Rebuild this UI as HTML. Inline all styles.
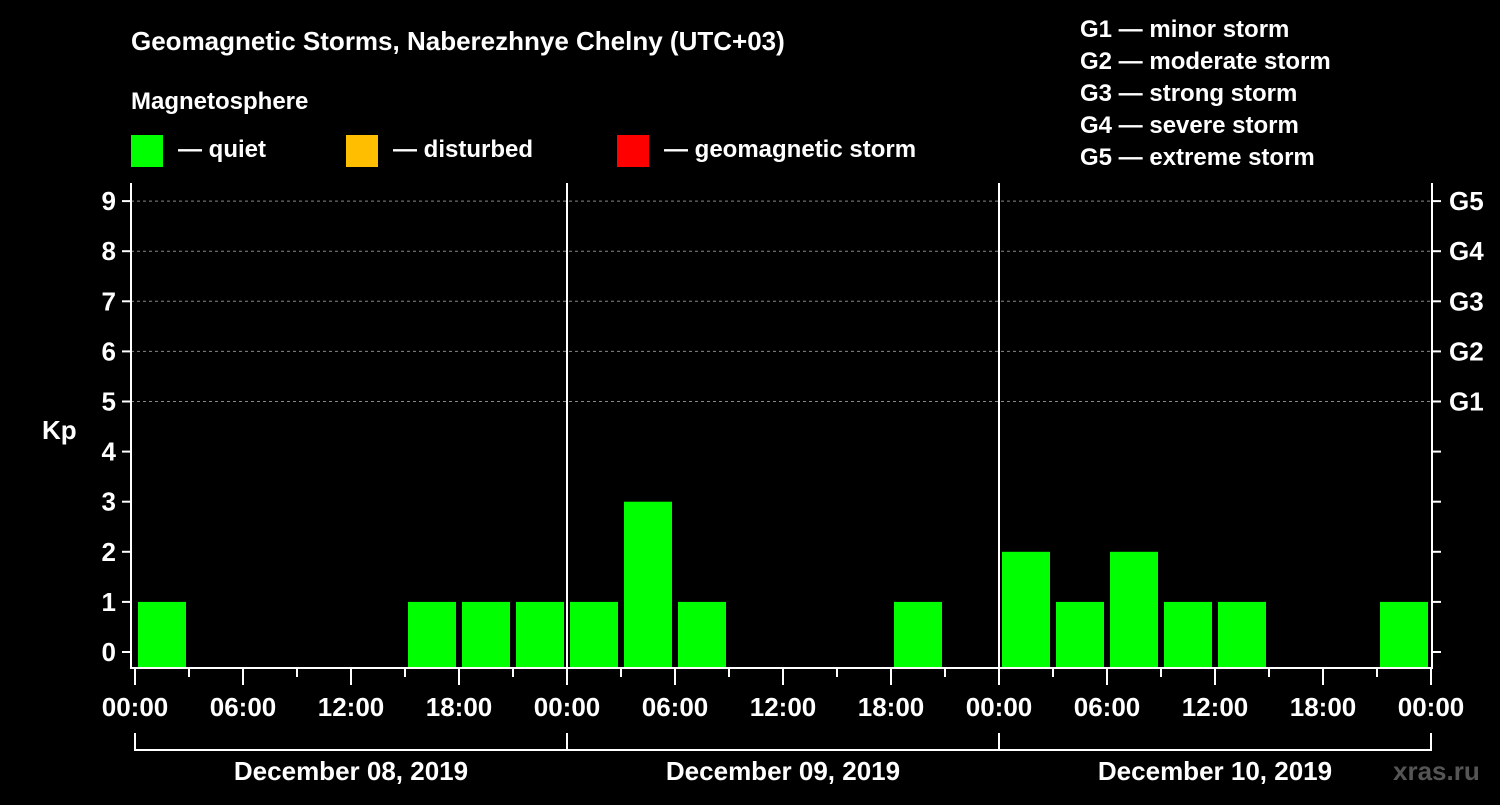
<!DOCTYPE html>
<html><head><meta charset="utf-8"><style>
body{margin:0;background:#000;width:1500px;height:800px;overflow:hidden}
svg text{font-family:"Liberation Sans",sans-serif;font-weight:bold;fill:#fff}
</style></head><body>
<svg id="c" width="1500" height="800">
<text x="131" y="50" font-size="26">Geomagnetic Storms, Naberezhnye Chelny (UTC+03)</text>
<text x="131" y="109" font-size="24">Magnetosphere</text>
<g><rect x="131" y="135" width="32" height="32" fill="#00ff00"/><text x="178" y="157" font-size="24">— quiet</text></g>
<g><rect x="346" y="135" width="32" height="32" fill="#ffbf00"/><text x="393" y="157" font-size="24">— disturbed</text></g>
<g><rect x="617" y="135" width="32" height="32" fill="#ff0000"/><text x="664" y="157" font-size="24">— geomagnetic storm</text></g>
<g font-size="24">
<text x="1080" y="37">G1 — minor storm</text><text x="1080" y="69">G2 — moderate storm</text><text x="1080" y="101">G3 — strong storm</text><text x="1080" y="133">G4 — severe storm</text><text x="1080" y="165">G5 — extreme storm</text></g>
<text x="42" y="439" font-size="26">Kp</text>
<text x="1393" y="780" font-size="26" fill="#555" style="fill:#555">xras.ru</text>
<g id="plot"></g>
</svg>
<script>
const days=["December 08, 2019","December 09, 2019","December 10, 2019"];
const kpValues=[1,0,0,0,0,1,1,1, 1,3,1,0,0,0,1,0, 2,1,2,1,1,0,0,1];
const yTicks=[0,1,2,3,4,5,6,7,8,9];
const gLabels=["G1","G2","G3","G4","G5"];
const xLabels=["00:00","06:00","12:00","18:00","00:00","06:00","12:00","18:00","00:00","06:00","12:00","18:00","00:00"];
const NS="http://www.w3.org/2000/svg",g=document.getElementById('plot');
const x0=135,x1=1431,yTop=183,yBot=668;
const slot=(x1-x0)/kpValues.length;
const X=i=>x0+i*slot, Y=v=>652-v*50.1;
function mk(t,a,p){const e=document.createElementNS(NS,t);for(const k in a)e.setAttribute(k,a[k]);(p||g).appendChild(e);return e;}
yTicks.forEach(v=>{
 if(v>=5){const l=mk('line',{x1:x0-4,x2:x1+1,y1:Y(v),y2:Y(v),stroke:'#888','stroke-dasharray':'3,3'});
 
 }
 const t=mk('line',{x1:122,x2:131,y1:Y(v),y2:Y(v),stroke:'#fff','stroke-width':2});
 
 
 const t2=mk('line',{x1:1432,x2:1441,y1:Y(v),y2:Y(v),stroke:'#fff','stroke-width':2});
 
 
 const tx=mk('text',{x:116,y:Y(v)+9,'font-size':26,'text-anchor':'end'});tx.textContent=v;
 
 
});
gLabels.forEach((s,i)=>{const tx=mk('text',{x:1449,y:Y(5+i)+9,'font-size':26});tx.textContent=s;
 
 });
kpValues.forEach((v,i)=>{if(v<=0)return;
 const c=v>=5?'#ff0000':v>=4?'#ffbf00':'#00ff00';
 const r=mk('rect',{x:X(i)+3,y:Y(v),width:slot-6,height:yBot-1-Y(v),fill:c});
 
 });
const ax=mk('path',{d:`M131 ${yTop}V${yBot}H1432V${yTop}`,fill:'none',stroke:'#fff','stroke-width':2});


for(let d=1;d<days.length;d++){const l=mk('line',{x1:x0+d*8*slot,x2:x0+d*8*slot,y1:yTop,y2:yBot,stroke:'#fff','stroke-width':2});
 
 }
for(let i=0;i<=kpValues.length;i++){const major=i%2==0;
 const l=mk('line',{x1:X(i),x2:X(i),y1:yBot,y2:yBot+(major?17:9),stroke:'#fff','stroke-width':2});
 
 }
xLabels.forEach((s,i)=>{const tx=mk('text',{x:X(i*2),y:716,'font-size':26,'text-anchor':'middle'});tx.textContent=s;
 
 });
days.forEach((s,d)=>{const a=X(d*8),b=X(d*8+8);
 const p=mk('path',{d:`M${a} 733V750H${b}V733`,fill:'none',stroke:'#fff','stroke-width':2});
 
 
 const tx=mk('text',{x:(a+b)/2,y:780,'font-size':26,'text-anchor':'middle'});tx.textContent=s;
 
 });
</script>
</body></html>
